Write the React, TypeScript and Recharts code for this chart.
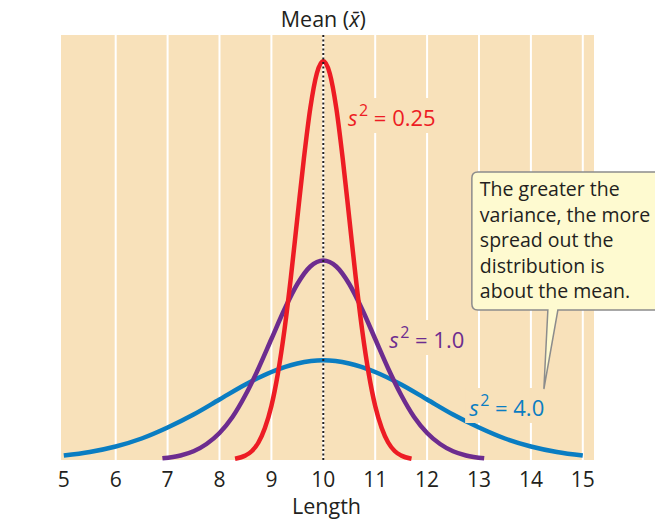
import React from 'react';
import { LineChart, Line, XAxis, YAxis, CartesianGrid, ReferenceLine, ReferenceDot } from 'recharts';

const lengthTicks = [5, 6, 7, 8, 9, 10, 11, 12, 13, 14, 15];
const gridValues = [6, 7, 8, 9, 10, 11, 12, 13, 14, 15];

// s^2 = 0.25
const redX = [8.3, 8.5, 8.625, 8.75, 8.875, 9, 9.125, 9.25, 9.375, 9.5, 9.625, 9.75, 9.875, 10, 10.125, 10.25, 10.375, 10.5, 10.625, 10.75, 10.875, 11, 11.125, 11.25, 11.375, 11.5, 11.7];
const redY = [0.25, 0.9, 1.8, 3.5, 6.4, 10.8, 17.3, 25.9, 36.5, 48.4, 60.2, 70.4, 77.3, 79.8, 77.3, 70.4, 60.2, 48.4, 36.5, 25.9, 17.3, 10.8, 6.4, 3.5, 1.8, 0.9, 0.25];

// s^2 = 1.0
const purpleX = [6.9, 7.25, 7.5, 7.75, 8, 8.25, 8.5, 8.75, 9, 9.25, 9.5, 9.75, 10, 10.25, 10.5, 10.75, 11, 11.25, 11.5, 11.75, 12, 12.25, 12.5, 12.75, 13.1];
const purpleY = [0.33, 0.91, 1.75, 3.2, 5.4, 8.6, 13.0, 18.3, 24.2, 30.1, 35.2, 38.7, 39.9, 38.7, 35.2, 30.1, 24.2, 18.3, 13.0, 8.6, 5.4, 3.2, 1.75, 0.91, 0.33];

// s^2 = 4.0
const blueX = [5, 5.5, 6, 6.5, 7, 7.5, 8, 8.5, 9, 9.5, 10, 10.5, 11, 11.5, 12, 12.5, 13, 13.5, 14, 14.5, 15];
const blueY = [0.88, 1.6, 2.7, 4.3, 6.5, 9.1, 12.1, 15.1, 17.6, 19.3, 19.95, 19.3, 17.6, 15.1, 12.1, 9.1, 6.5, 4.3, 2.7, 1.6, 0.88];

const calloutLines = ['The greater the', 'variance, the more', 'spread out the', 'distribution is', 'about the mean.'];

const toPoints = (xs: number[], ys: number[]) => xs.map((x, i) => ({ x, y: ys[i] }));
const redData = toPoints(redX, redY);
const purpleData = toPoints(purpleX, purpleY);
const blueData = toPoints(blueX, blueY);

const FONT = '"Open Sans", sans-serif';
const INK = '#231f20';
const BG = '#f8e1ba';
const RED = '#ed1c24';
const PURPLE = '#6d2c8f';
const BLUE = '#0a7dc2';

const VarLabel = ({ cx, cy, value, color, w }: any) => (
  <g>
    <rect x={cx - 4} y={cy - 28} width={w} height={35} fill={BG} />
    <text x={cx} y={cy} fill={color} fontSize={22} fontFamily={FONT}>
      <tspan fontStyle="italic">s</tspan>
      <tspan fontSize={16} dx={1.5} dy={-10}>2</tspan>
      <tspan dy={10}>{'\u00a0=\u00a0' + value}</tspan>
    </text>
  </g>
);

const Callout = ({ cx, cy }: any) => {
  const l = cx - 72;
  const t = cy - 217;
  const b = cy - 79;
  const R = cx + 125;
  const r = 6;
  const d = `M${l + r},${t} H${R - r} Q${R},${t} ${R},${t + r} V${b - r} Q${R},${b} ${R - r},${b} H${cx + 14} L${cx},${cy} L${cx + 4},${b} H${l + r} Q${l},${b} ${l},${b - r} V${t + r} Q${l},${t} ${l + r},${t} Z`;
  return (
    <g>
      <path d={d} fill="#fefad0" stroke="#8c8c8c" strokeWidth={1.5} />
      <text fontSize={19.5} fontFamily={FONT} fill={INK}>
        {calloutLines.map((line, i) => (
          <tspan key={i} x={cx - 64} y={cy - 193 + i * 25.5}>{line}</tspan>
        ))}
      </text>
    </g>
  );
};

export default function App() {
  return (
    <div style={{ position: 'absolute', left: 0, top: 0, width: 655, height: 519, background: '#fff' }}>
      <LineChart width={655} height={519} margin={{ top: 35, right: 61, bottom: 29, left: 61 }}>
        <CartesianGrid horizontal={false} vertical={false} fill={BG} />
        <XAxis
          type="number"
          dataKey="x"
          domain={[4.946, 15.216]}
          ticks={lengthTicks}
          allowDataOverflow
          axisLine={false}
          tickLine={false}
          tickMargin={6}
          height={30}
          tick={{ fontSize: 21, fill: INK, fontFamily: FONT }}
          label={(p: any) => (
            <text x={p.viewBox.x + p.viewBox.width / 2 - 1} y={514} textAnchor="middle" fontSize={21.5} fontFamily={FONT} fill={INK}>Length</text>
          )}
        />
        <YAxis
          type="number"
          dataKey="y"
          domain={[0, 85]}
          width={0}
          tick={false}
          axisLine={false}
          tickLine={false}
          label={(p: any) => (
            <text x={25} y={p.viewBox.y + p.viewBox.height / 2} transform={`rotate(-90 25 ${p.viewBox.y + p.viewBox.height / 2})`} textAnchor="middle" dominantBaseline="central" fontSize={21} fontFamily={FONT} fill={INK}>Frequency</text>
          )}
        />
        {gridValues.map((v) => (
          <ReferenceLine key={v} x={v} stroke="#ffffff" strokeWidth={2} />
        ))}
        <ReferenceDot x={10.476} y={66.8} r={0} ifOverflow="visible" shape={(p: any) => <VarLabel cx={p.cx} cy={p.cy} value="0.25" color={RED} w={104} />} />
        <ReferenceDot x={11.27} y={22.4} r={0} ifOverflow="visible" shape={(p: any) => <VarLabel cx={p.cx} cy={p.cy} value="1.0" color={PURPLE} w={90} />} />
        <ReferenceDot x={12.81} y={8.8} r={0} ifOverflow="visible" shape={(p: any) => <VarLabel cx={p.cx} cy={p.cy} value="4.0" color={BLUE} w={88} />} />
        <Line data={blueData} dataKey="y" type="monotone" stroke={BLUE} strokeWidth={4.5} dot={false} activeDot={false} isAnimationActive={false} />
        <Line data={purpleData} dataKey="y" type="monotone" stroke={PURPLE} strokeWidth={4.5} dot={false} activeDot={false} isAnimationActive={false} />
        <Line data={redData} dataKey="y" type="monotone" stroke={RED} strokeWidth={4.5} dot={false} activeDot={false} isAnimationActive={false} />
        <ReferenceLine
          x={10}
          stroke={INK}
          strokeWidth={2}
          strokeDasharray="2 2.5"
          label={(p: any) => (
            <text x={p.viewBox.x} y={p.viewBox.y - 8} textAnchor="middle" fontSize={21.5} fontFamily={FONT} fill={INK}>
              {'Mean ('}
              <tspan fontStyle="italic">{'x\u0304'}</tspan>
              {')'}
            </text>
          )}
        />
        <ReferenceDot x={14.25} y={14.2} r={0} ifOverflow="visible" shape={(p: any) => <Callout cx={p.cx} cy={p.cy} />} />
      </LineChart>
    </div>
  );
}
